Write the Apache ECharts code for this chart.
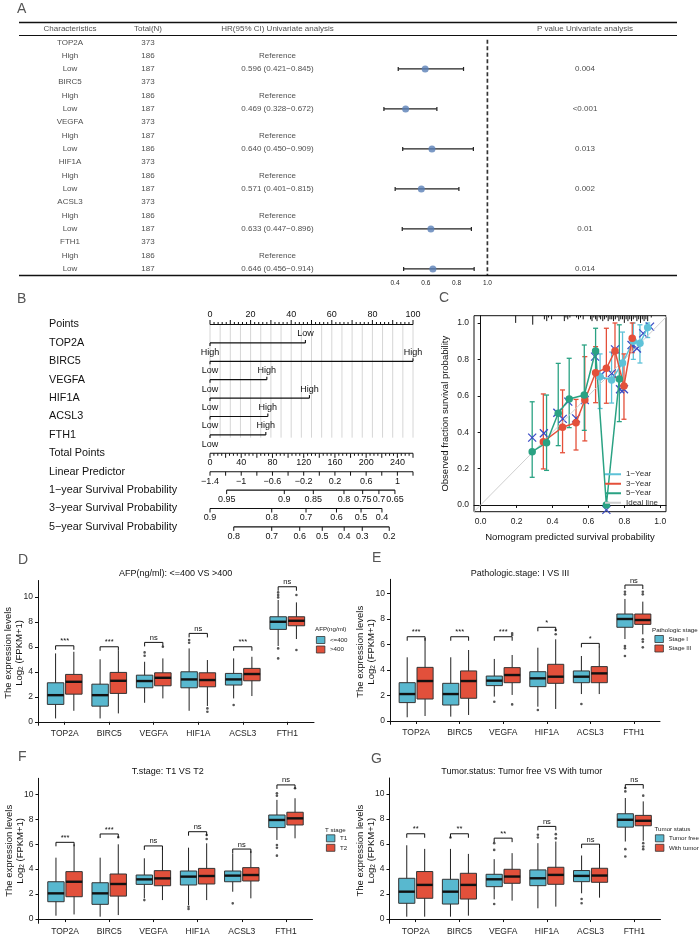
<!DOCTYPE html>
<html>
<head>
<meta charset="utf-8">
<title>Six-gene prognostic figure</title>
<script src="https://cdn.jsdelivr.net/npm/echarts@6.0.0/dist/echarts.min.js"></script>
<style>
  html, body { margin: 0; padding: 0; background: #fff; }
  #chart { width: 700px; height: 936px; }
</style>
</head>
<body>
<div id="chart"></div>
<script>
// ---------- A: univariate Cox table + forest ----------
var genes = ['TOP2A', 'BIRC5', 'VEGFA', 'HIF1A', 'ACSL3', 'FTH1'];
var totalN = [373, 373, 373, 373, 373, 373];
var highN = [186, 186, 187, 186, 186, 186];
var lowN = [187, 187, 186, 187, 187, 187];
var hr = [0.596, 0.469, 0.640, 0.571, 0.633, 0.646];
var hrLow = [0.421, 0.328, 0.450, 0.401, 0.447, 0.456];
var hrHigh = [0.845, 0.672, 0.909, 0.815, 0.896, 0.914];
var pValues = ['0.004', '<0.001', '0.013', '0.002', '0.01', '0.014'];
var tableHead = ['Characteristics', 'Total(N)', 'HR(95% CI) Univariate analysis', 'P value Univariate analysis'];
var forestTicks = [0.4, 0.6, 0.8, 1.0];

// ---------- B: nomogram ----------
var nomoLabels = ['Points', 'TOP2A', 'BIRC5', 'VEGFA', 'HIF1A', 'ACSL3', 'FTH1', 'Total Points', 'Linear Predictor',
  '1\u2212year Survival Probability', '3\u2212year Survival Probability', '5\u2212year Survival Probability'];
var nomoHigh = [0, 100, 28, 49, 28.5, 27.5];   // points given to "High"
var nomoLow = [47, 0, 0, 0, 0, 0];             // points given to "Low"
var totalPtsLabels = [0, 40, 80, 120, 160, 200, 240];
var lpLabels = [-1.4, -1, -0.6, -0.2, 0.2, 0.6, 1];
var surv1Labels = ['0.95', '0.9', '0.85', '0.8', '0.75', '0.7', '0.65'];
var surv1Pts = [8.2, 36.6, 50.9, 66, 75.2, 83.2, 91.1];
var surv3Labels = ['0.9', '0.8', '0.7', '0.6', '0.5', '0.4'];
var surv3Pts = [0, 30.4, 47.3, 62.3, 74.4, 84.7];
var surv5Labels = ['0.8', '0.7', '0.6', '0.5', '0.4', '0.3', '0.2'];
var surv5Pts = [11.7, 30.4, 44.2, 55.3, 66.1, 75, 88.3];

// ---------- C: calibration ----------
var cal1x = [0.665, 0.729, 0.79, 0.85, 0.887, 0.93];
var cal1y = [0.705, 0.687, 0.78, 0.90, 0.888, 0.975];
var cal1lo = [0.53, 0.56, 0.63, 0.80, 0.78, 0.92];
var cal1hi = [0.83, 0.84, 0.95, 1.0, 0.99, 1.0];
var cal3x = [0.349, 0.456, 0.531, 0.58, 0.64, 0.70, 0.748, 0.798, 0.844];
var cal3y = [0.348, 0.427, 0.452, 0.577, 0.727, 0.751, 0.846, 0.654, 0.916];
var cal3lo = [0.198, 0.287, 0.302, 0.352, 0.562, 0.559, 0.70, 0.471, 0.837];
var cal3hi = [0.61, 0.632, 0.58, 0.815, 0.87, 0.971, 1.0, 0.83, 1.0];
var cal5x = [0.287, 0.367, 0.432, 0.493, 0.577, 0.640, 0.70, 0.772];
var cal5y = [0.293, 0.342, 0.504, 0.582, 0.604, 0.846, 0.0, 0.692];
var cal5lo = [0.152, 0.19, 0.326, 0.425, 0.41, 0.72, 0.0, 0.458];
var cal5hi = [0.567, 0.604, 0.778, 0.806, 0.879, 0.971, 0.0, 0.99];
var calXx = [0.287, 0.352, 0.427, 0.457, 0.488, 0.531, 0.58, 0.637, 0.67, 0.70, 0.729, 0.748, 0.776, 0.798, 0.84, 0.87, 0.905, 0.943];
var calXy = [0.37, 0.394, 0.507, 0.473, 0.568, 0.476, 0.577, 0.815, 0.714, -0.027, 0.724, 0.855, 0.636, 0.636, 0.879, 0.86, 0.943, 0.98];
var rugX = [0.195, 0.29, 0.355, 0.368, 0.378, 0.395, 0.466, 0.475, 0.485, 0.497, 0.534, 0.545, 0.556, 0.571, 0.612, 0.62,
  0.63, 0.64, 0.648, 0.66, 0.668, 0.68, 0.69, 0.70, 0.71, 0.72, 0.73, 0.74, 0.75, 0.76, 0.77, 0.78, 0.79, 0.80, 0.81,
  0.82, 0.83, 0.84, 0.85, 0.86, 0.87, 0.88, 0.89, 0.90, 0.91, 0.92, 0.93, 0.95];
var rugCount = [4, 5, 2, 3, 1, 2, 3, 1, 2, 1, 1, 2, 1, 2, 2, 3, 1, 2, 3, 1, 2, 3, 2, 1, 3, 2, 2, 3, 2, 1, 3, 2, 2, 4, 2,
  3, 2, 3, 2, 1, 3, 2, 4, 2, 3, 2, 3, 1];
var calTicks = [0, 0.2, 0.4, 0.6, 0.8, 1.0];

// ---------- D-G: expression boxplots [min, q1, median, q3, max] ----------
var boxTicks = [0, 2, 4, 6, 8, 10];
var dGroups = ['<=400', '>400'];
var dBlue = [[0.27, 1.39, 2.13, 3.12, 5.47], [0.27, 1.25, 2.13, 3.01, 5.0], [1.52, 2.72, 3.26, 3.73, 4.8],
  [0.88, 2.72, 3.39, 4.0, 5.87], [1.87, 2.94, 3.39, 3.87, 5.07], [6.06, 7.39, 8.0, 8.4, 9.74]];
var dRed = [[0.88, 2.21, 3.2, 3.79, 5.6], [0.67, 2.27, 3.28, 3.95, 5.68], [1.87, 2.88, 3.52, 3.92, 5.07],
  [1.26, 2.8, 3.34, 3.92, 4.94], [2.06, 3.28, 3.82, 4.27, 5.2], [6.62, 7.68, 8.08, 8.4, 9.55]];
var dBlueOut = [[3, 5.55], [3, 5.28], [4, 6.54], [4, 6.32], [5, 1.34], [6, 10.35], [6, 10.14], [6, 9.95], [6, 5.87], [6, 5.07]];
var dRedOut = [[3, 6.0], [4, 1.07], [4, 0.8], [6, 10.14], [6, 5.74]];
var dSig = ['***', '***', 'ns', 'ns', '***', 'ns'];
var dSigY = [6.08, 6.0, 6.35, 7.07, 6.0, 10.8];

var eGroups = ['Stage I', 'Stage III'];
var eBlue = [[0.29, 1.44, 2.11, 3.0, 4.99], [0.34, 1.25, 2.11, 2.95, 4.99], [1.91, 2.77, 3.16, 3.52, 4.86],
  [1.12, 2.69, 3.34, 3.86, 5.74], [2.11, 3.0, 3.47, 3.92, 5.09], [6.42, 7.34, 7.99, 8.38, 9.56]];
var eRed = [[0.39, 1.72, 3.13, 4.2, 6.5], [0.47, 1.78, 3.13, 3.92, 5.56], [2.04, 3.0, 3.6, 4.18, 5.17],
  [0.94, 2.95, 3.47, 4.44, 6.4], [2.11, 3.0, 3.73, 4.26, 5.82], [6.79, 7.57, 7.91, 8.38, 9.35]];
var eBlueOut = [[3, 1.51], [4, 0.86], [5, 1.33], [6, 10.13], [6, 9.92], [6, 5.87], [6, 5.69], [6, 5.09]];
var eRedOut = [[3, 6.87], [3, 6.74], [3, 1.3], [4, 7.13], [4, 6.8], [6, 10.13], [6, 9.92], [6, 6.4], [6, 6.21], [6, 5.77]];
var eSig = ['***', '***', '***', '*', '*', 'ns'];
var eSigY = [6.6, 6.6, 6.6, 7.34, 6.08, 10.65];

var fGroups = ['T1', 'T2'];
var fBlue = [[0.27, 1.39, 2.06, 2.99, 4.92], [0.19, 1.18, 2.06, 2.91, 4.92], [1.66, 2.78, 3.18, 3.53, 4.87],
  [1.12, 2.73, 3.4, 3.85, 5.72], [2.19, 2.99, 3.48, 3.85, 5.27], [6.34, 7.33, 7.94, 8.34, 9.55]];
var fRed = [[0.37, 1.79, 2.99, 3.8, 5.99], [0.32, 1.84, 2.81, 3.61, 5.99], [1.52, 2.67, 3.26, 3.88, 5.67],
  [1.52, 2.81, 3.45, 4.06, 6.07], [1.66, 3.05, 3.53, 4.12, 5.48], [6.47, 7.54, 8.07, 8.56, 9.68]];
var fBlueOut = [[3, 1.52], [4, 0.99], [4, 0.8], [5, 1.26], [6, 10.08], [6, 9.89], [6, 5.94], [6, 5.72], [6, 5.08]];
var fRedOut = [[2, 6.55], [4, 6.74], [4, 6.42], [6, 10.48]];
var fSig = ['***', '***', 'ns', 'ns', 'ns', 'ns'];
var fSigY = [6.15, 6.82, 5.86, 7.0, 5.61, 10.75];

var gGroups = ['Tumor free', 'With tumor'];
var gBlue = [[0.19, 1.26, 2.19, 3.26, 5.9], [0.19, 1.2, 2.19, 3.18, 5.61], [1.58, 2.59, 3.18, 3.58, 4.79],
  [0.86, 2.67, 3.26, 3.93, 6.07], [2.06, 2.99, 3.45, 3.88, 5.08], [6.2, 7.35, 7.94, 8.42, 9.68]];
var gRed = [[0.19, 1.66, 2.73, 3.8, 5.61], [0.27, 1.6, 2.73, 3.66, 5.21], [1.47, 2.86, 3.4, 3.98, 5.27],
  [0.99, 2.78, 3.53, 4.14, 6.2], [1.71, 2.94, 3.48, 4.06, 5.67], [6.26, 7.46, 7.86, 8.29, 9.41]];
var gBlueOut = [[2, 6.52], [3, 6.07], [3, 5.53], [3, 1.2], [4, 6.74], [4, 6.52], [5, 1.6], [5, 1.26], [6, 10.48], [6, 10.21], [6, 5.59], [6, 5.0]];
var gRedOut = [[4, 6.79], [4, 6.45], [6, 9.87], [6, 6.07], [6, 5.8], [6, 5.59]];
var gSig = ['**', '**', '**', 'ns', 'ns', 'ns'];
var gSigY = [6.82, 6.82, 6.47, 7.41, 5.99, 10.75];

// ---------- helpers ----------
var FF = '"Liberation Sans", Arial, Helvetica, sans-serif';
var BLUE = '#58B8CF', RED = '#E2503B';
function font(size) { return size + 'px ' + FF; }
function seg(x1, y1, x2, y2, w, c) {
  return { type: 'line', shape: { x1: x1, y1: y1, x2: x2, y2: y2 }, style: { stroke: c || '#111', lineWidth: w || 1 } };
}
function txt(x, y, s, size, align, va) {
  return { type: 'text', x: x, y: y, style: { text: s, font: font(size), fill: '#111', textAlign: align || 'center', textVerticalAlign: va || 'middle' } };
}
function minus(v) { return String(v).replace('-', '\u2212'); }

// table text cells
var colX = [70, 148, 277.5, 585];
var tableCells = [];
tableHead.forEach(function (t, c) { tableCells.push({ value: [colX[c], -1], name: t }); });
genes.forEach(function (g, i) {
  var r = 3 * i;
  var hrText = hr[i].toFixed(3) + ' (' + hrLow[i].toFixed(3) + '\u2212' + hrHigh[i].toFixed(3) + ')';
  tableCells.push({ value: [colX[0], r], name: g }, { value: [colX[1], r], name: String(totalN[i]) });
  tableCells.push({ value: [colX[0], r + 1], name: 'High' }, { value: [colX[1], r + 1], name: String(highN[i]) },
    { value: [colX[2], r + 1], name: 'Reference' });
  tableCells.push({ value: [colX[0], r + 2], name: 'Low' }, { value: [colX[1], r + 2], name: String(lowN[i]) },
    { value: [colX[2], r + 2], name: hrText }, { value: [colX[3], r + 2], name: pValues[i] });
});

// nomogram scales
function nomoAxis(row, tickPts, tickLen, labelPts, labelText, dir) {
  return {
    type: 'custom', xAxisIndex: 2, yAxisIndex: 2, silent: true,
    data: [[tickPts[0], row]],
    renderItem: function (params, api) {
      var kids = [];
      var a = api.coord([tickPts[0], row]);
      var b = api.coord([tickPts[tickPts.length - 1], row]);
      kids.push(seg(a[0], a[1], b[0], b[1], 1.1));
      tickPts.forEach(function (t, i) {
        var p = api.coord([t, row]);
        kids.push(seg(p[0], p[1], p[0], p[1] + dir * tickLen[i], 1));
      });
      labelPts.forEach(function (t, i) {
        var p = api.coord([t, row]);
        kids.push(txt(p[0], p[1] + dir * 9.5, labelText[i], 9));
      });
      return { type: 'group', children: kids };
    }
  };
}
var pTicks = [], pLen = [];
for (var t = 0; t <= 100; t += 2) { pTicks.push(t); pLen.push(t % 10 === 0 ? 4.5 : 2.5); }
var tpTicks = [], tpLen = [];
for (var s = 0; s <= 260; s += 5) { tpTicks.push(s * 100 / 260); tpLen.push(s % 20 === 0 ? 4.5 : 2.5); }
var lpTicks = [], lpLen = [];
for (var k = 0; k <= 13; k++) { lpTicks.push((k * 0.2) * 100 / 2.6); lpLen.push(4); }
var nomoGrid = [];
for (var q = 0; q <= 100; q += 5) nomoGrid.push([q]);

// boxplot pieces
function boxSeries(g, name, rows, off, color) {
  return {
    type: 'custom', name: name, xAxisIndex: g, yAxisIndex: g, silent: true,
    itemStyle: { color: color },
    data: rows.map(function (r, i) { return [i + 1].concat(r); }),
    renderItem: function (params, api) {
      var x = api.value(0);
      var u = api.size([1, 0])[0];
      var cx = api.coord([x, 0])[0] + off * u;
      var hw = 0.185 * u;
      function y(k) { return api.coord([x, api.value(k)])[1]; }
      var q1 = y(2), med = y(3), q3 = y(4);
      return { type: 'group', children: [
        seg(cx, y(1), cx, y(5), 1, '#222'),
        { type: 'rect', shape: { x: cx - hw, y: q3, width: 2 * hw, height: q1 - q3 }, style: { fill: color, stroke: '#333', lineWidth: 1 } },
        seg(cx - hw, med, cx + hw, med, 2.4, '#111')
      ] };
    }
  };
}
function outlierSeries(g, pts, off) {
  return {
    type: 'custom', xAxisIndex: g, yAxisIndex: g, silent: true, data: pts,
    renderItem: function (params, api) {
      var u = api.size([1, 0])[0];
      var p = api.coord([api.value(0), api.value(1)]);
      return { type: 'circle', shape: { cx: p[0] + off * u, cy: p[1], r: 1.3 }, style: { fill: '#555' } };
    }
  };
}
function sigSeries(g, labels, ys) {
  return {
    type: 'custom', xAxisIndex: g, yAxisIndex: g, silent: true,
    data: ys.map(function (v, i) { return [i + 1, v]; }),
    renderItem: function (params, api) {
      var u = api.size([1, 0])[0];
      var p = api.coord([api.value(0), api.value(1)]);
      var x1 = p[0] - 0.205 * u, x2 = p[0] + 0.205 * u;
      return { type: 'group', children: [
        { type: 'polyline', shape: { points: [[x1, p[1] + 4], [x1, p[1]], [x2, p[1]], [x2, p[1] + 4]] }, style: { stroke: '#111', lineWidth: 1, fill: null } },
        txt(p[0], p[1] - 0.5, labels[params.dataIndex], 7.5, 'center', 'bottom')
      ] };
    }
  };
}
function boxAxes(g, ymin, ymax) {
  return {
    x: {
      gridIndex: g, type: 'value', min: 0.4, max: 6.6, splitLine: { show: false },
      axisLine: { lineStyle: { color: '#111', width: 1 } },
      axisTick: { customValues: [1, 2, 3, 4, 5, 6], length: 3, lineStyle: { color: '#111' } },
      axisLabel: { customValues: [1, 2, 3, 4, 5, 6], formatter: function (v) { return genes[Math.round(v) - 1]; },
        fontSize: 8.5, fontFamily: FF, color: '#222', margin: 4 }
    },
    y: {
      gridIndex: g, type: 'value', min: ymin, max: ymax, splitLine: { show: false },
      axisLine: { show: true, lineStyle: { color: '#111', width: 1 } },
      axisTick: { show: true, customValues: boxTicks, length: 3, lineStyle: { color: '#111' } },
      axisLabel: { customValues: boxTicks, fontSize: 8.5, fontFamily: FF, color: '#222', margin: 5 },
      name: 'The expression levels\nLog{s|2} (FPKM+1)', nameLocation: 'middle', nameGap: 13, nameMoveOverlap: false,
      nameTextStyle: { fontSize: 9.5, fontFamily: FF, color: '#111', lineHeight: 11,
        rich: { s: { fontSize: 6.5, fontFamily: FF, color: '#111', lineHeight: 6, verticalAlign: 'bottom' } } }
    }
  };
}

var panels = [
  { g: 4, blue: dBlue, red: dRed, bo: dBlueOut, ro: dRedOut, sig: dSig, sy: dSigY, names: dGroups, ymin: -0.28, ymax: 11.3 },
  { g: 5, blue: eBlue, red: eRed, bo: eBlueOut, ro: eRedOut, sig: eSig, sy: eSigY, names: eGroups, ymin: -0.26, ymax: 11.1 },
  { g: 6, blue: fBlue, red: fRed, bo: fBlueOut, ro: fRedOut, sig: fSig, sy: fSigY, names: fGroups, ymin: -0.34, ymax: 11.28 },
  { g: 7, blue: gBlue, red: gRed, bo: gBlueOut, ro: gRedOut, sig: gSig, sy: gSigY, names: gGroups, ymin: -0.34, ymax: 11.28 }
];

// ---------- axes ----------
var xAxes = [
  { gridIndex: 0, type: 'value', min: 19, max: 677, show: false },
  { gridIndex: 1, type: 'value', min: 0.3, max: 1.1, splitLine: { show: false }, axisLine: { show: false }, axisTick: { show: false },
    axisLabel: { customValues: forestTicks, formatter: function (v) { return v.toFixed(1); }, fontSize: 6.5, fontFamily: FF, color: '#222', margin: 4 } },
  { gridIndex: 2, type: 'value', min: 0, max: 100, show: false },
  { gridIndex: 3, type: 'value', min: -0.037, max: 1.032, splitLine: { show: false },
    axisLine: { lineStyle: { color: '#111', width: 1 } },
    axisTick: { customValues: calTicks, length: 3, lineStyle: { color: '#111' } },
    axisLabel: { customValues: calTicks, formatter: function (v) { return v.toFixed(1); }, fontSize: 8.5, fontFamily: FF, color: '#222', margin: 5 },
    name: 'Nomogram predicted survival probability', nameLocation: 'middle', nameGap: 21, nameMoveOverlap: false,
    nameTextStyle: { fontSize: 9.5, fontFamily: FF, color: '#111' } }
];
var yAxes = [
  { gridIndex: 0, type: 'value', min: -1.5, max: 17.5, inverse: true, show: false },
  { gridIndex: 1, type: 'value', min: -1.5, max: 17.5, inverse: true, show: false },
  { gridIndex: 2, type: 'value', min: -1, max: 12, inverse: true, splitLine: { show: false }, axisLine: { show: false }, axisTick: { show: false },
    axisLabel: { customValues: [0, 1, 2, 3, 4, 5, 6, 7, 8, 9, 10, 11], formatter: function (v) { return nomoLabels[Math.round(v)]; },
      align: 'left', margin: 161, fontSize: 10.8, fontFamily: FF, color: '#111' } },
  { gridIndex: 3, type: 'value', min: -0.037, max: 1.04, splitLine: { show: false },
    axisLine: { show: true, lineStyle: { color: '#111', width: 1 } },
    axisTick: { show: true, customValues: calTicks, length: 3, lineStyle: { color: '#111' } },
    axisLabel: { customValues: calTicks, formatter: function (v) { return v.toFixed(1); }, fontSize: 8.5, fontFamily: FF, color: '#222', margin: 5 },
    name: 'Observed fraction survival probability', nameLocation: 'middle', nameGap: 24, nameMoveOverlap: false,
    nameTextStyle: { fontSize: 9.5, fontFamily: FF, color: '#111' } }
];
panels.forEach(function (p) {
  var ax = boxAxes(p.g, p.ymin, p.ymax);
  xAxes.push(ax.x); yAxes.push(ax.y);
});

// ---------- series ----------
var series = [];
// A table
series.push({
  type: 'scatter', xAxisIndex: 0, yAxisIndex: 0, silent: true, symbolSize: 0.1,
  itemStyle: { color: 'rgba(0,0,0,0)' }, data: tableCells,
  label: { show: true, position: 'inside', formatter: '{b}', fontSize: 8, fontFamily: FF, color: '#1a1a1a' },
  markLine: { silent: true, symbol: ['none', 'none'], label: { show: false }, animation: false,
    lineStyle: { color: '#111', type: 'solid' },
    data: [{ yAxis: -1.5, lineStyle: { width: 1.4 } }, { yAxis: -0.5, lineStyle: { width: 1 } }, { yAxis: 17.5, lineStyle: { width: 1.4 } }] }
});
// A forest
series.push({
  type: 'line', xAxisIndex: 1, yAxisIndex: 1, silent: true, symbol: 'none',
  data: [[1, -0.2], [1, 17.5]], lineStyle: { color: '#333', width: 1.7, type: [4, 2.5] }
});
series.push({
  type: 'custom', xAxisIndex: 1, yAxisIndex: 1, silent: true,
  data: genes.map(function (g, i) { return [hrLow[i], hrHigh[i], 3 * i + 2]; }),
  renderItem: function (params, api) {
    var a = api.coord([api.value(0), api.value(2)]), b = api.coord([api.value(1), api.value(2)]);
    return { type: 'group', children: [
      seg(a[0], a[1], b[0], b[1], 1.2, '#222'), seg(a[0], a[1] - 2, a[0], a[1] + 2, 1.2, '#222'), seg(b[0], b[1] - 2, b[0], b[1] + 2, 1.2, '#222')
    ] };
  }
});
series.push({
  type: 'scatter', xAxisIndex: 1, yAxisIndex: 1, silent: true, symbolSize: 7,
  itemStyle: { color: '#5A80B6' },
  data: genes.map(function (g, i) { return [hr[i], 3 * i + 2]; })
});

// B nomogram
series.push({
  type: 'custom', xAxisIndex: 2, yAxisIndex: 2, silent: true, data: nomoGrid,
  renderItem: function (params, api) {
    var a = api.coord([api.value(0), 0]), b = api.coord([api.value(0), 6.15]);
    return seg(a[0], a[1], b[0], b[1], 1, '#d6d6d6');
  }
});
series.push(nomoAxis(0, pTicks, pLen, [0, 20, 40, 60, 80, 100], ['0', '20', '40', '60', '80', '100'], -1));
series.push({
  type: 'custom', xAxisIndex: 2, yAxisIndex: 2, silent: true,
  data: nomoHigh.map(function (h, i) { return [h, nomoLow[i], i + 1]; }),
  renderItem: function (params, api) {
    var h = api.value(0), l = api.value(1), row = api.value(2);
    var hiFirst = h >= l;
    var a = api.coord([Math.min(h, l), row]), b = api.coord([Math.max(h, l), row]);
    return { type: 'group', children: [
      seg(a[0], a[1], b[0], b[1], 1.2),
      seg(b[0], b[1], b[0], b[1] - 3, 1.1),
      seg(a[0], a[1], a[0], a[1] + 3, 1.1),
      txt(b[0], b[1] - 9, hiFirst ? 'High' : 'Low', 9),
      txt(a[0], a[1] + 9.5, hiFirst ? 'Low' : 'High', 9)
    ] };
  }
});
series.push(nomoAxis(7, tpTicks, tpLen, totalPtsLabels.map(function (v) { return v * 100 / 260; }), totalPtsLabels.map(String), 1));
series.push(nomoAxis(8, lpTicks, lpLen, lpLabels.map(function (v) { return (v + 1.4) * 100 / 2.6; }), lpLabels.map(minus), 1));
series.push(nomoAxis(9, surv1Pts, surv1Pts.map(function () { return 4; }), surv1Pts, surv1Labels, 1));
series.push(nomoAxis(10, surv3Pts, surv3Pts.map(function () { return 4; }), surv3Pts, surv3Labels, 1));
series.push(nomoAxis(11, surv5Pts, surv5Pts.map(function () { return 4; }), surv5Pts, surv5Labels, 1));

// C calibration
var C1 = '#5EC2D8', C3 = '#E4503A', C5 = '#2AA283';
series.push({
  type: 'line', name: 'Ideal line', xAxisIndex: 3, yAxisIndex: 3, silent: true, symbol: 'none',
  data: [[-0.04, -0.04], [1.04, 1.04]], lineStyle: { color: '#cfcfcf', width: 1 }, itemStyle: { color: '#cfcfcf' }
});
series.push({
  type: 'custom', xAxisIndex: 3, yAxisIndex: 3, silent: true,
  data: rugX.map(function (x, i) { return [x, rugCount[i]]; }),
  renderItem: function (params, api) {
    var p = api.coord([api.value(0), 1.04]);
    return seg(p[0], p[1], p[0], p[1] + 1.8 * api.value(1), 1, '#111');
  }
});
function errBars(xs, lo, hi, color) {
  return {
    type: 'custom', xAxisIndex: 3, yAxisIndex: 3, silent: true,
    data: xs.map(function (x, i) { return [x, lo[i], hi[i]]; }),
    renderItem: function (params, api) {
      if (api.value(1) === api.value(2)) return null;
      var a = api.coord([api.value(0), api.value(1)]), b = api.coord([api.value(0), api.value(2)]);
      return { type: 'group', children: [
        seg(a[0], a[1], b[0], b[1], 1.3, color), seg(a[0] - 2.5, a[1], a[0] + 2.5, a[1], 1.3, color), seg(b[0] - 2.5, b[1], b[0] + 2.5, b[1], 1.3, color)
      ] };
    }
  };
}
function calLine(name, xs, ys, color) {
  return {
    type: 'line', name: name, xAxisIndex: 3, yAxisIndex: 3, silent: true, symbol: 'circle', symbolSize: 7.5,
    data: xs.map(function (x, i) { return [x, ys[i]]; }),
    lineStyle: { color: color, width: 1.5 }, itemStyle: { color: color }
  };
}
series.push(errBars(cal1x, cal1lo, cal1hi, C1), errBars(cal3x, cal3lo, cal3hi, C3), errBars(cal5x, cal5lo, cal5hi, C5));
series.push(calLine('1\u2212Year', cal1x, cal1y, C1), calLine('3\u2212Year', cal3x, cal3y, C3), calLine('5\u2212Year', cal5x, cal5y, C5));
series.push({
  type: 'custom', xAxisIndex: 3, yAxisIndex: 3, silent: true,
  data: calXx.map(function (x, i) { return [x, calXy[i]]; }),
  renderItem: function (params, api) {
    var p = api.coord([api.value(0), api.value(1)]);
    return { type: 'group', children: [
      seg(p[0] - 4, p[1] - 4, p[0] + 4, p[1] + 4, 1.3, '#3A4BC5'), seg(p[0] - 4, p[1] + 4, p[0] + 4, p[1] - 4, 1.3, '#3A4BC5')
    ] };
  }
});

// D-G boxplots
panels.forEach(function (p) {
  series.push(boxSeries(p.g, p.names[0], p.blue, -0.205, BLUE));
  series.push(boxSeries(p.g, p.names[1], p.red, 0.205, RED));
  series.push(outlierSeries(p.g, p.bo, -0.205));
  series.push(outlierSeries(p.g, p.ro, 0.205));
  series.push(sigSeries(p.g, p.sig, p.sy));
});

// ---------- legends ----------
function boxLegend(names, left, top) {
  return {
    data: names, left: left, top: top, orient: 'vertical', padding: 0, icon: 'rect',
    itemWidth: 8.5, itemHeight: 7, itemGap: 1.5, selectedMode: false,
    itemStyle: { borderColor: '#333', borderWidth: 0.8 },
    textStyle: { fontSize: 6.2, fontFamily: FF, color: '#222', lineHeight: 8 }
  };
}
var legends = [
  { data: ['1\u2212Year', '3\u2212Year', '5\u2212Year', 'Ideal line'], left: 605, top: 469.5, orient: 'vertical', padding: 0,
    icon: 'rect', itemWidth: 16, itemHeight: 2, itemGap: 0, selectedMode: false,
    textStyle: { fontSize: 8, fontFamily: FF, color: '#333', lineHeight: 9.5 } },
  boxLegend(dGroups, 316, 636),
  boxLegend(eGroups, 654.5, 635),
  boxLegend(fGroups, 326, 834.3),
  boxLegend(gGroups, 655, 834.3)
];

// ---------- free text ----------
function gText(x, y, s, size, align, color) {
  return { type: 'text', x: x, y: y, silent: true,
    style: { text: s, font: font(size), fill: color || '#111', textAlign: align || 'left', textVerticalAlign: 'middle' } };
}
var texts = [
  gText(17, 9.5, 'A', 14, 'left', '#555'),
  gText(17, 299, 'B', 14, 'left', '#555'),
  gText(439, 298, 'C', 14, 'left', '#555'),
  gText(18, 560, 'D', 14, 'left', '#555'),
  gText(372, 558, 'E', 14, 'left', '#555'),
  gText(18, 757, 'F', 14, 'left', '#555'),
  gText(371, 759, 'G', 14, 'left', '#555'),
  gText(175.7, 573.3, 'AFP(ng/ml): <=400 VS >400', 9, 'center'),
  gText(520, 573.3, 'Pathologic.stage: I VS III', 9, 'center'),
  gText(167.8, 771.7, 'T.stage: T1 VS T2', 9, 'center'),
  gText(521.7, 771.7, 'Tumor.status: Tumor free VS With tumor', 9, 'center'),
  gText(315, 629, 'AFP(ng/ml)', 6.2, 'left', '#222'),
  gText(652, 630, 'Pathologic stage', 6.2, 'left', '#222'),
  gText(325, 830, 'T stage', 6.2, 'left', '#222'),
  gText(654.5, 829.3, 'Tumor status', 6.2, 'left', '#222')
];

var gridBase = { containLabel: false, outerBoundsMode: 'none' };
function grid(o) { return Object.assign({}, gridBase, o); }

var chart = echarts.init(document.getElementById('chart'), null, { renderer: 'canvas' });
chart.setOption({
  animation: false,
  backgroundColor: '#fff',
  textStyle: { fontFamily: FF },
  grid: [
    grid({ left: 19, top: 22.3, width: 658, height: 253.3 }),
    grid({ left: 379.6, top: 22.3, width: 123.2, height: 253.3 }),
    grid({ left: 210, top: 306.1, width: 203, height: 239.2 }),
    grid({ left: 474, top: 315.7, width: 192, height: 196, show: true, borderColor: '#111', borderWidth: 1, backgroundColor: 'transparent' }),
    grid({ left: 38, top: 580.5, width: 276, height: 144.8 }),
    grid({ left: 390, top: 579.3, width: 270, height: 145 }),
    grid({ left: 38.5, top: 778.3, width: 274, height: 145 }),
    grid({ left: 389.5, top: 778, width: 271, height: 145.3 })
  ],
  xAxis: xAxes,
  yAxis: yAxes,
  legend: legends,
  graphic: { elements: texts },
  series: series
});
</script>
</body>
</html>
